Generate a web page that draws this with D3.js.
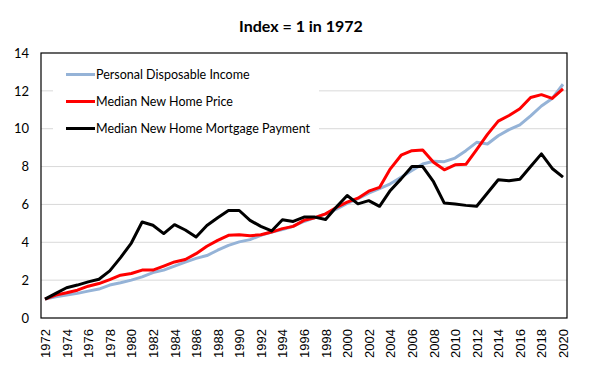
<!DOCTYPE html>
<html>
<head>
<meta charset="utf-8">
<script src="https://cdn.jsdelivr.net/npm/d3@7"></script>
<style>
  body { margin: 0; background: #fff; }
  svg { display: block; }
</style>
</head>
<body>
<script>
// data
var years = d3.range(1972, 2021);
var yTicks = [0, 2, 4, 6, 8, 10, 12, 14];
var xTicks = d3.range(1972, 2021, 2);
var seriesNames = ["Personal Disposable Income", "Median New Home Price", "Median New Home Mortgage Payment"];

var income = [1.00, 1.12, 1.21, 1.30, 1.42, 1.53, 1.74, 1.86, 2.00, 2.17,
  2.40, 2.53, 2.74, 2.95, 3.15, 3.30, 3.58, 3.84, 4.02, 4.14,
  4.37, 4.54, 4.67, 4.85, 5.10, 5.30, 5.50, 5.75, 6.05, 6.30,
  6.60, 6.83, 7.09, 7.44, 7.79, 8.14, 8.28, 8.26, 8.45, 8.84,
  9.28, 9.19, 9.63, 9.95, 10.20, 10.68, 11.20, 11.60, 12.35];

var price = [1.00, 1.21, 1.33, 1.47, 1.68, 1.82, 2.03, 2.26, 2.35, 2.53,
  2.53, 2.74, 2.96, 3.09, 3.40, 3.79, 4.10, 4.37, 4.40, 4.35,
  4.40, 4.54, 4.72, 4.84, 5.16, 5.30, 5.50, 5.84, 6.12, 6.33,
  6.70, 6.90, 7.88, 8.60, 8.84, 8.88, 8.23, 7.83, 8.09, 8.12,
  8.90, 9.70, 10.40, 10.70, 11.05, 11.65, 11.80, 11.60, 12.10];

var payment = [1.00, 1.30, 1.60, 1.74, 1.91, 2.05, 2.49, 3.19, 3.96, 5.07,
  4.90, 4.46, 4.93, 4.65, 4.28, 4.89, 5.30, 5.68, 5.68, 5.16,
  4.84, 4.60, 5.19, 5.10, 5.33, 5.33, 5.20, 5.86, 6.47, 6.03,
  6.20, 5.90, 6.74, 7.35, 8.00, 8.00, 7.20, 6.07, 6.02, 5.95,
  5.90, 6.60, 7.30, 7.25, 7.33, 8.00, 8.67, 7.90, 7.44];

var colors = ["#95b3d7", "#ff0000", "#000000"];
var allSeries = [income, price, payment];

var width = 591, height = 376;
var box = {left: 41, right: 567, top: 53, bottom: 318};

var svg = d3.select("body").append("svg")
    .attr("width", width)
    .attr("height", height);

var x = d3.scaleLinear().domain([1972, 2020]).range([45, 563]);
var y = d3.scaleLinear().domain([0, 14]).range([box.bottom, box.top]);

// title
svg.append("text")
    .attr("x", 301)
    .attr("y", 32)
    .attr("text-anchor", "middle")
    .style("font-family", "Lato, 'Open Sans', sans-serif")
    .style("font-weight", "bold")
    .style("font-size", "16px")
    .text("Index = 1 in 1972");

// gridlines
svg.append("g")
  .selectAll("line")
    .data(yTicks.filter(function(d) { return d > 0 && d < 14; }))
  .enter().append("line")
    .attr("x1", box.left)
    .attr("x2", box.right)
    .attr("y1", function(d) { return y(d); })
    .attr("y2", function(d) { return y(d); })
    .attr("stroke", "#d9d9d9")
    .attr("stroke-width", 1);

// y axis labels
var yAxis = svg.append("g")
    .attr("transform", "translate(" + box.left + ",0)")
    .call(d3.axisLeft(y).tickValues(yTicks).tickSize(0).tickPadding(12));
yAxis.select(".domain").remove();
yAxis.selectAll("text")
    .style("font-family", "Lato, 'Open Sans', sans-serif")
    .style("font-size", "13px")
    .attr("fill", "#000");

// x axis labels
var xAxis = svg.append("g")
    .attr("transform", "translate(0," + box.bottom + ")")
    .call(d3.axisBottom(x).tickValues(xTicks).tickSize(0).tickFormat(d3.format("d")));
xAxis.select(".domain").remove();
xAxis.selectAll("text")
    .style("font-family", "'Liberation Sans', Arial, sans-serif")
    .style("font-size", "13px")
    .attr("fill", "#000")
    .attr("text-anchor", "end")
    .attr("transform", "rotate(-90)")
    .attr("x", -11)
    .attr("y", 0)
    .attr("dy", "0.35em");

// lines
var line = d3.line()
    .x(function(d, i) { return x(years[i]); })
    .y(function(d) { return y(d); });

allSeries.forEach(function(s, k) {
  svg.append("path")
      .datum(s)
      .attr("fill", "none")
      .attr("stroke", colors[k])
      .attr("stroke-width", 3)
      .attr("stroke-linejoin", "round")
      .attr("d", line);
});

// plot area border
svg.append("rect")
    .attr("x", box.left)
    .attr("y", box.top)
    .attr("width", box.right - box.left)
    .attr("height", box.bottom - box.top)
    .attr("fill", "none")
    .attr("stroke", "#000")
    .attr("stroke-width", 1.2);

// legend
var legend = svg.append("g");
legend.append("rect")
    .attr("x", 53)
    .attr("y", 60)
    .attr("width", 266)
    .attr("height", 82)
    .attr("fill", "#fff");

var item = legend.selectAll(".item")
    .data(seriesNames)
  .enter().append("g")
    .attr("class", "item")
    .attr("transform", function(d, i) { return "translate(0," + (74.5 + i * 27) + ")"; });

item.append("line")
    .attr("x1", 66)
    .attr("x2", 95)
    .attr("stroke", function(d, i) { return colors[i]; })
    .attr("stroke-width", 3);

item.append("text")
    .attr("x", 96)
    .attr("dy", "0.35em")
    .style("font-family", "Lato, 'Open Sans', sans-serif")
    .style("font-size", "12.5px")
    .text(function(d) { return d; });
</script>
</body>
</html>
